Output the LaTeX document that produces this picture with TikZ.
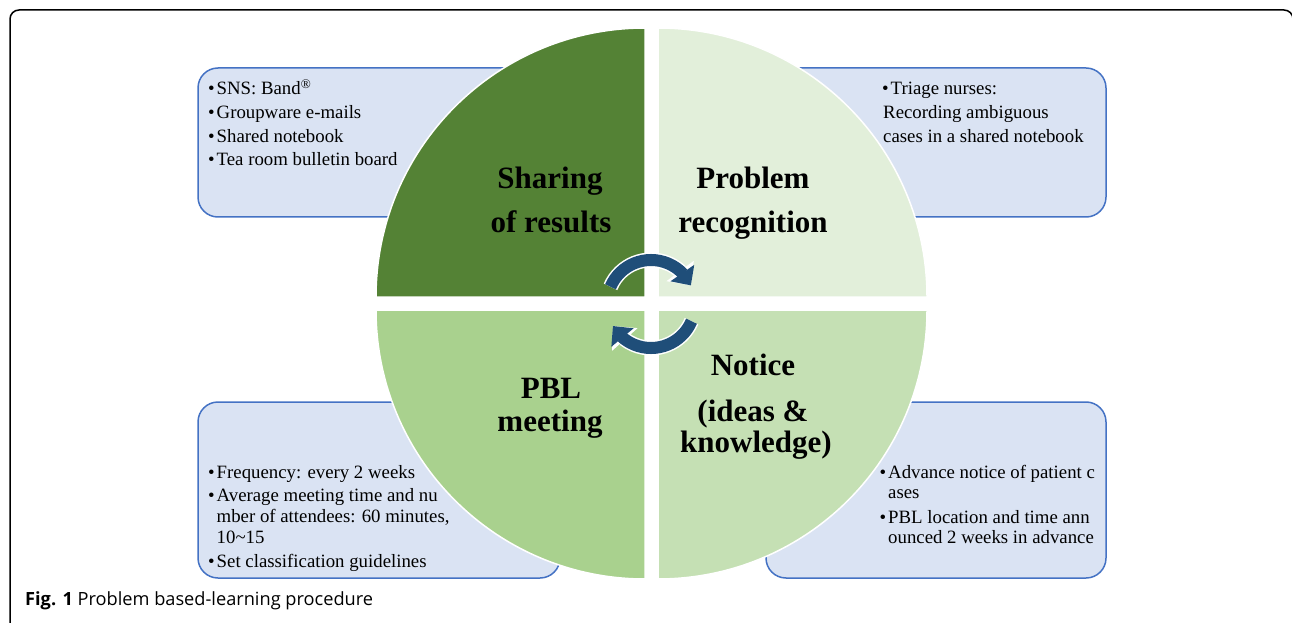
\documentclass[tikz,border=0pt]{standalone}
\usepackage{fontspec}
\setmainfont{Liberation Serif}
\newfontfamily\capfont{Open Sans}
\usetikzlibrary{arrows.meta,bending}
\definecolor{dkgreen}{HTML}{548235}
\definecolor{ltgreen}{HTML}{E2EFDA}
\definecolor{mdgreen}{HTML}{A9D18E}
\definecolor{pgreen}{HTML}{C5E0B4}
\definecolor{boxfill}{HTML}{DAE3F3}
\definecolor{boxline}{HTML}{4472C4}
\definecolor{arrblue}{HTML}{1F4E79}
\newcommand\bul{\makebox[8.5pt][l]{•}}
\begin{document}
\begin{tikzpicture}[x=1pt,y=1pt,
  infobox/.style={fill=boxfill, draw=boxline, line width=1.5pt, rounded corners=20pt, inner sep=0pt},
  quad/.style={draw=white, line width=1.5pt},
  head/.style={font=\fontsize{31}{31}\bfseries\selectfont, anchor=base, inner sep=0pt},
  item/.style={font=\fontsize{18.8}{20}\selectfont, anchor=base west, inner sep=0pt},
  cyc/.style={line width=12pt, arrblue, -{Triangle[length=15pt,width=28pt,flex]}},
  cycw/.style={line width=15pt, white, -{Triangle[length=18pt,width=33pt,flex]}},
]
\useasboundingbox (0,0) rectangle (1292,622);
\fill[white] (0,0) rectangle (1292,622);
\draw[line width=1.5pt, rounded corners=9pt] (10,-5) -- (10,612) -- (1293,612) -- (1293,-5);

% info boxes
\node[infobox, minimum width=362pt, minimum height=149pt] (tlbox) at (379,479.5) {};
\node[infobox, minimum width=340pt, minimum height=149pt] (trbox) at (936,479.5) {};
\node[infobox, minimum width=362pt, minimum height=176pt] (blbox) at (379,132) {};
\node[infobox, minimum width=340pt, minimum height=176pt] (brbox) at (936,132) {};

% quadrants
\filldraw[quad, fill=dkgreen] (645,325) -- (376,325) arc[start angle=180, end angle=90, radius=269] -- cycle;
\filldraw[quad, fill=ltgreen] (658,325) -- (658,594) arc[start angle=90, end angle=0, radius=269] -- cycle;
\filldraw[quad, fill=mdgreen] (645,312) -- (645,43) arc[start angle=270, end angle=180, radius=269] -- cycle;
\filldraw[quad, fill=pgreen] (658,312) -- (927,312) arc[start angle=0, end angle=-90, radius=269] -- cycle;

% headings
\node[head] (h1a) at (550,433) {Sharing};
\node[head] (h1b) at (551,389) {of results};
\node[head] (h2a) at (753,433) {Problem};
\node[head] (h2b) at (753,389) {recognition};
\node[head] (h3a) at (551,224) {PBL};
\node[head] (h3b) at (550,191) {meeting};
\node[head] (h4a) at (753,247) {Notice};
\node[head] (h4b) at (753,201) {(ideas \&};
\node[head] (h4c) at (756,170) {knowledge)};

% box texts
\node[item] (tl1) at (208,527) {\bul SNS: Band\textsuperscript{®}};
\node[item] (tl2) at (208,503) {\bul Groupware e-mails};
\node[item] (tl3) at (208,479) {\bul Shared notebook};
\node[item] (tl4) at (208,456) {\bul Tea room bulletin board};

\node[item] (tr1) at (882,527) {\bul Triage nurses:};
\node[item] (tr2) at (883,503) {Recording ambiguous};
\node[item] (tr3) at (883,479) {cases in a shared notebook};

\node[item] (bl1) at (208,144) {\bul Frequency: every 2 weeks};
\node[item] (bl2) at (208,121) {\bul Average meeting time and nu};
\node[item] (bl3) at (216.5,100) {mber of attendees: 60 minutes,};
\node[item] (bl4) at (216.5,79) {10\textasciitilde 15};
\node[item] (bl5) at (208,55) {\bul Set classification guidelines};

\node[item] (br1) at (879.5,144) {\bul Advance notice of patient c};
\node[item] (br2) at (888,124) {ases};
\node[item] (br3) at (879.5,99) {\bul PBL location and time ann};
\node[item] (br4) at (888,79) {ounced 2 weeks in advance};

% cycle arrows
\coordinate (c) at (651,318);
\draw[cycw] ([shift={(157:44)}]c) arc[start angle=157, end angle=25, radius=44];
\draw[cyc]  ([shift={(157:44)}]c) arc[start angle=157, end angle=25, radius=44];
\draw[cycw] ([shift={(-23:44)}]c) arc[start angle=-23, end angle=-150, radius=44];
\draw[cyc]  ([shift={(-23:44)}]c) arc[start angle=-23, end angle=-150, radius=44];

% caption
\node[anchor=base west, inner sep=0pt, font=\capfont\fontsize{18.2}{18.2}\selectfont] (cap) at (25,17) {\textbf{Fig. 1} Problem based-learning procedure};
\end{tikzpicture}
\end{document}
